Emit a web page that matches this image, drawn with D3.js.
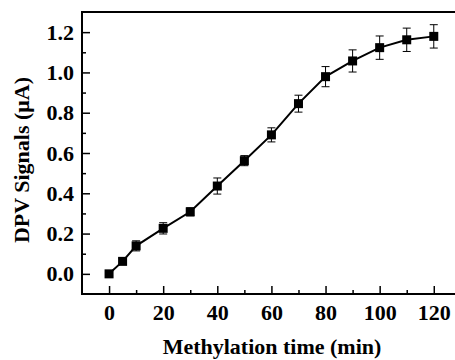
<!DOCTYPE html>
<html>
<head>
<meta charset="utf-8">
<script src="https://cdn.jsdelivr.net/npm/d3@7"></script>
<style>
  body { margin: 0; background: #fff; }
  svg { display: block; }
  text { font-family: "Liberation Serif", "Times New Roman", serif; font-weight: bold; }
</style>
</head>
<body>
<script>
// data
const times   = [0, 5, 10, 20, 30, 40, 50, 60, 70, 80, 90, 100, 110, 120];
const signals = [0.0, 0.062, 0.139, 0.226, 0.308, 0.436, 0.562, 0.690, 0.845, 0.979, 1.057, 1.123, 1.162, 1.179];
const errors  = [0.01, 0.015, 0.025, 0.028, 0.02, 0.04, 0.025, 0.035, 0.042, 0.05, 0.055, 0.058, 0.058, 0.058];
const xTicks = [0, 20, 40, 60, 80, 100, 120];
const xMinor = [10, 30, 50, 70, 90, 110];
const yTicks = [0.0, 0.2, 0.4, 0.6, 0.8, 1.0, 1.2];
const yMinor = [0.1, 0.3, 0.5, 0.7, 0.9, 1.1];

const w = 455, h = 360;
const padLeft = 82, padTop = 12, padBottom = 294;

const dataset = times.map((t, i) => ({t: t, v: signals[i], e: errors[i]}));

const xScale = d3.scaleLinear().domain([-10, 130]).range([padLeft, padLeft + 140 * 2.706]);
const yScale = d3.scaleLinear().domain([-0.1, 1.3]).range([padBottom, padTop]);

const svg = d3.select("body").append("svg")
   .attr("width", w)
   .attr("height", h);

// minor ticks
svg.append("g")
   .attr("transform", "translate(0," + padBottom + ")")
   .call(d3.axisBottom(xScale).tickValues(xMinor).tickSize(-4).tickFormat(""));
svg.append("g")
   .attr("transform", "translate(" + padLeft + ",0)")
   .call(d3.axisLeft(yScale).tickValues(yMinor).tickSize(-4).tickFormat(""));

// major ticks
const xAxis = svg.append("g")
   .attr("transform", "translate(0," + padBottom + ")")
   .call(d3.axisBottom(xScale).tickValues(xTicks).tickSize(-8).tickPadding(10).tickFormat(d3.format("d")));
const yAxis = svg.append("g")
   .attr("transform", "translate(" + padLeft + ",0)")
   .call(d3.axisLeft(yScale).tickValues(yTicks).tickSize(-8).tickPadding(8).tickFormat(d3.format(".1f")));

svg.selectAll(".domain").remove();
svg.selectAll(".tick line").attr("stroke", "#000").attr("stroke-width", 1.5);
xAxis.selectAll("text").attr("font-size", 22).attr("fill", "#000").attr("font-family", "Liberation Serif").attr("font-weight", "bold");
yAxis.selectAll("text").attr("font-size", 22).attr("fill", "#000").attr("font-family", "Liberation Serif").attr("font-weight", "bold");

// frame
svg.append("rect")
   .attr("x", padLeft)
   .attr("y", padTop)
   .attr("width", xScale(130) - padLeft)
   .attr("height", padBottom - padTop)
   .attr("fill", "none")
   .attr("stroke", "#000")
   .attr("stroke-width", 2);

// line
const line = d3.line().x(d => xScale(d.t)).y(d => yScale(d.v));
svg.append("path")
   .datum(dataset)
   .attr("d", line)
   .attr("fill", "none")
   .attr("stroke", "#000")
   .attr("stroke-width", 2);

// error bars
const eb = svg.selectAll(".err").data(dataset).enter().append("g").attr("class", "err")
   .attr("stroke", "#000").attr("stroke-width", 1);
eb.append("line")
   .attr("x1", d => xScale(d.t)).attr("x2", d => xScale(d.t))
   .attr("y1", d => yScale(d.v - d.e)).attr("y2", d => yScale(d.v + d.e));
eb.append("line")
   .attr("x1", d => xScale(d.t) - 4).attr("x2", d => xScale(d.t) + 4)
   .attr("y1", d => yScale(d.v + d.e)).attr("y2", d => yScale(d.v + d.e));
eb.append("line")
   .attr("x1", d => xScale(d.t) - 4).attr("x2", d => xScale(d.t) + 4)
   .attr("y1", d => yScale(d.v - d.e)).attr("y2", d => yScale(d.v - d.e));

// markers
svg.selectAll(".pt").data(dataset).enter().append("rect")
   .attr("class", "pt")
   .attr("x", d => xScale(d.t) - 4.5)
   .attr("y", d => yScale(d.v) - 4.5)
   .attr("width", 9)
   .attr("height", 9)
   .attr("fill", "#000");

// axis titles
svg.append("text")
   .attr("text-anchor", "middle")
   .attr("x", 272)
   .attr("y", 354)
   .attr("font-size", 22)
   .text("Methylation time (min)");

svg.append("text")
   .attr("text-anchor", "middle")
   .attr("transform", "translate(29,160) rotate(-90)")
   .attr("font-size", 22)
   .text("DPV Signals (\u03bcA)");
</script>
</body>
</html>
